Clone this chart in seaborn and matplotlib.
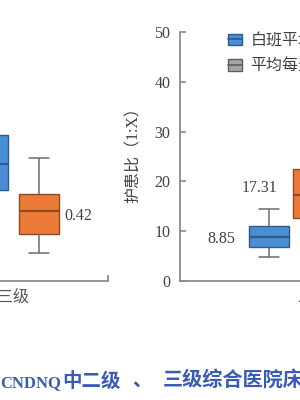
import numpy as np
import pandas as pd
import matplotlib
matplotlib.use("Agg")
import matplotlib.pyplot as plt
import seaborn as sns
from matplotlib.patches import Patch
from matplotlib.lines import Line2D
from matplotlib.legend_handler import HandlerTuple
from matplotlib.ticker import FixedLocator

sns.set_theme(style="white")
plt.rcParams["font.family"] = ["Liberation Serif", "Noto Sans CJK SC"]

# ---------------- data (five-number summaries) -------------
hue_levels = ["白班平均护患比", "夜班平均护患比", "平均每天护患比"]
stat_names = ["whislo", "q1", "med", "q3", "whishi"]

left_category = "三级"
left_day = [0.40, 0.548, 0.705, 0.88, 1.10]
left_night = [0.169, 0.283, 0.42, 0.524, 0.741]

right_category = "二级"
right_day = [4.76, 6.9, 8.85, 11.1, 14.4]
right_night = [7.5, 12.6, 17.31, 22.4, 30.0]

right_yticks = [0, 10, 20, 30, 40, 50]
right_ylabel = "护患比（1:X）"
title_parts = ["CNDNQ", "中二级", "、", "三级综合医院床护比"]

colors = {hue_levels[0]: "#4A8FD3", hue_levels[1]: "#EC7A38", hue_levels[2]: "#A6A6A6"}
edge_colors = {hue_levels[0]: "#2B5C8C", hue_levels[1]: "#8E4A22", hue_levels[2]: "#5E5E5E"}
axis_grey = "#8C8C8C"
text_grey = "#404040"

left_df = pd.DataFrame({
    "cat": [left_category] * 10,
    "hue": [hue_levels[0]] * 5 + [hue_levels[1]] * 5,
    "val": left_day + left_night,
})
right_df = pd.DataFrame({
    "cat": [right_category] * 10,
    "hue": [hue_levels[0]] * 5 + [hue_levels[1]] * 5,
    "val": right_day + right_night,
})

W, H = 300, 400
fig = plt.figure(figsize=(3, 4), dpi=100)

def px_rect(x0, x1, y_top, y_bot):
    return [x0 / W, 1 - y_bot / H, (x1 - x0) / W, (y_bot - y_top) / H]

# ---------------- left panel -------------
l_ppu = 127.5
l_center = 13.5
l_xlim = (-1.0, (108 - l_center) / l_ppu)
axL = fig.add_axes(px_rect(l_center + l_xlim[0] * l_ppu, 108, 32, 281))
sns.boxplot(data=left_df, x="cat", y="val", hue="hue",
            hue_order=hue_levels[:2], palette=colors, saturation=1, whis=(0, 100),
            width=0.8, gap=0.2, linewidth=1.0, linecolor="#6B6B6B",
            legend=False, ax=axL)
axL.set_xlim(*l_xlim)
axL.set_ylim(0, 1.5)

# ---------------- right panel -------------
r_ppu = 165.0
r_center = 313.0
r_xlim = ((180 - r_center) / r_ppu, 0.5)
axR = fig.add_axes(px_rect(180, r_center + r_xlim[1] * r_ppu, 32, 281))
sns.boxplot(data=right_df, x="cat", y="val", hue="hue",
            hue_order=hue_levels, palette=colors, saturation=1, whis=(0, 100),
            width=0.8, gap=0.09, linewidth=1.0, linecolor="#6B6B6B",
            legend=False, ax=axR)
axR.set_xlim(*r_xlim)
axR.set_ylim(0, 50)
axR.set_yticks(right_yticks)

# recolour box edges & medians per hue, collect box centres
def style_boxes(ax, levels):
    centers = {}
    conts = [c for c in ax.containers if hasattr(c, "boxes")]
    for lvl, c in zip(levels, conts):
        for b in c.boxes:
            b.set_edgecolor(edge_colors[lvl])
            b.set_linewidth(1.0)
            ext = b.get_path().get_extents()
            centers[lvl] = (ext.x0 + ext.x1) / 2
        for m in c.medians:
            m.set_color(edge_colors[lvl])
            m.set_linewidth(1.6)
        for w in list(c.whiskers) + list(c.caps):
            w.set_color("#6B6B6B")
            w.set_linewidth(1.1)
    return centers

cL = style_boxes(axL, hue_levels[:2])
cR = style_boxes(axR, hue_levels[:2])

for ax in (axL, axR):
    ax.set_xlabel("")
    ax.set_ylabel("")
    for s in ("top", "right"):
        ax.spines[s].set_visible(False)
    for s in ("left", "bottom"):
        ax.spines[s].set_color(axis_grey)
        ax.spines[s].set_linewidth(1.3)
    ax.tick_params(axis="x", length=0, labelsize=11.5, labelcolor="#555555", pad=6)
    ax.tick_params(axis="y", direction="in", length=4.5, width=1.2, color=axis_grey,
                   labelsize=11.5, labelcolor=text_grey, pad=7, left=True)
    ax.set_facecolor("none")

# left panel's y axis lies outside the visible crop
axL.spines["left"].set_visible(False)
axL.tick_params(axis="y", left=False, labelleft=False)
axL.xaxis.set_minor_locator(FixedLocator([l_xlim[1]]))
axL.tick_params(axis="x", which="minor", direction="in", length=4, width=1.3,
                color=axis_grey, bottom=True)

axR.set_ylabel(right_ylabel, fontsize=11.5, color=text_grey)
axR.yaxis.set_label_coords(-0.176, 0.52)

# ---------------- value labels -------------
def label(ax, x, v, dx, dy, ha):
    ax.annotate(f"{v:.2f}", xy=(x, v), xytext=(dx, dy), textcoords="offset points",
                ha=ha, va="center", fontsize=11.5, color=text_grey)

label(axL, cL[hue_levels[1]], left_night[2], 18.5, -3.6, "left")
label(axR, cR[hue_levels[0]], right_day[2], -24.5, -1.8, "right")
label(axR, cR[hue_levels[1]], right_night[2], -25.5, 5.0, "right")

# ---------------- legend -------------
def handle(lvl):
    return (Patch(facecolor=colors[lvl], edgecolor=edge_colors[lvl], linewidth=1.0),
            Line2D([], [], color=edge_colors[lvl], linewidth=1.2))

order = [hue_levels[0], hue_levels[2], hue_levels[1]]
axR.legend([handle(l) for l in order], order, ncol=2,
           handler_map={tuple: HandlerTuple(ndivide=1)},
           loc="upper left", bbox_to_anchor=(228 / W, 1 - 33 / H),
           bbox_transform=fig.transFigure, frameon=False, borderpad=0,
           borderaxespad=0, handlelength=0.85, handleheight=0.7,
           handletextpad=0.55, labelspacing=0.6, columnspacing=1.0,
           prop={"size": 11.5}, labelcolor=text_grey)

# ---------------- caption -------------
cap_color = "#3A5BB5"
base_y = 1 - 387 / H
fig.text(61 / W, base_y, title_parts[0], ha="right", va="baseline",
         fontsize=12, fontweight="bold", color=cap_color,
         family=["Liberation Serif", "Noto Sans CJK SC"])
fig.text(62 / W, base_y, title_parts[1], ha="left", va="baseline",
         fontsize=14, fontweight="bold", color=cap_color, family=["Noto Sans CJK SC"])
fig.text(132 / W, base_y, title_parts[2], ha="left", va="baseline",
         fontsize=14, fontweight="bold", color=cap_color, family=["Noto Sans CJK SC"])
fig.text(163 / W, base_y, title_parts[3], ha="left", va="baseline",
         fontsize=14.5, fontweight="bold", color=cap_color, family=["Noto Sans CJK SC"])

fig.savefig("out.png", dpi=100)
